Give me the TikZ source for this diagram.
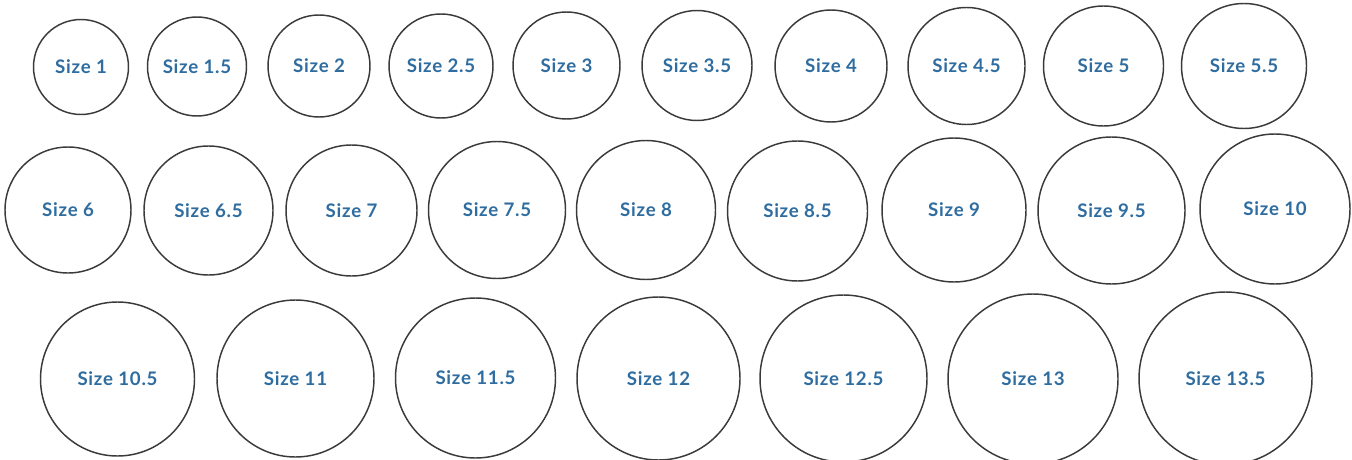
\documentclass[tikz,border=0pt]{standalone}
\usepackage{fontspec}
\setmainfont{Lato}[LetterSpace=4]
\definecolor{sizeblue}{HTML}{2F6DA0}
\definecolor{ringline}{HTML}{3A3A3A}
\begin{document}
\begin{tikzpicture}[
  x=0.75pt, y=-0.75pt,
  font=\bfseries\fontsize{14}{16}\selectfont,
  ring/.style={
    circle, draw=ringline, line width=1.1pt, fill=white,
    minimum size=#1*1.5pt, inner sep=0pt, text=sizeblue
  },
]
\useasboundingbox (0,0) rectangle (1352,460);

% Row 1 (sizes 1 to 5.5)
\node[ring=47.5] (s10) at (81, 67) {Size 1};
\node[ring=49.5] (s15) at (197, 66.5) {Size 1.5};
\node[ring=51] (s20) at (319, 66) {Size 2};
\node[ring=52] (s25) at (441, 66) {Size 2.5};
\node[ring=53.5] (s30) at (566.5, 65.5) {Size 3};
\node[ring=55] (s35) at (697, 65.5) {Size 3.5};
\node[ring=56] (s40) at (831, 66) {Size 4};
\node[ring=58.5] (s45) at (966.5, 66) {Size 4.5};
\node[ring=60] (s50) at (1103.5, 66) {Size 5};
\node[ring=62.5] (s55) at (1244, 66) {Size 5.5};

% Row 2 (sizes 6 to 10)
\node[ring=63] (s60) at (68, 210) {Size 6};
\node[ring=64.5] (s65) at (208.5, 210.5) {Size 6.5};
\node[ring=65.5] (s70) at (351.5, 210.5) {Size 7};
\node[ring=68.5] (s75) at (497, 210) {Size 7.5};
\node[ring=69.5] (s80) at (646, 210) {Size 8};
\node[ring=70] (s85) at (797.5, 211) {Size 8.5};
\node[ring=72] (s90) at (954, 210) {Size 9};
\node[ring=73.5] (s95) at (1111.5, 210.5) {Size 9.5};
\node[ring=75] (s100) at (1275, 209) {Size 10};

% Row 3 (sizes 10.5 to 13.5)
\node[ring=77] (s105) at (117.5, 379) {Size 10.5};
\node[ring=78.5] (s110) at (295.5, 378.5) {Size 11};
\node[ring=80] (s115) at (475.5, 378) {Size 11.5};
\node[ring=81.5] (s120) at (658.5, 378.5) {Size 12};
\node[ring=83.5] (s125) at (843.5, 378.5) {Size 12.5};
\node[ring=85] (s130) at (1033, 379) {Size 13};
\node[ring=86.5] (s135) at (1225.5, 378.5) {Size 13.5};

\end{tikzpicture}
\end{document}
